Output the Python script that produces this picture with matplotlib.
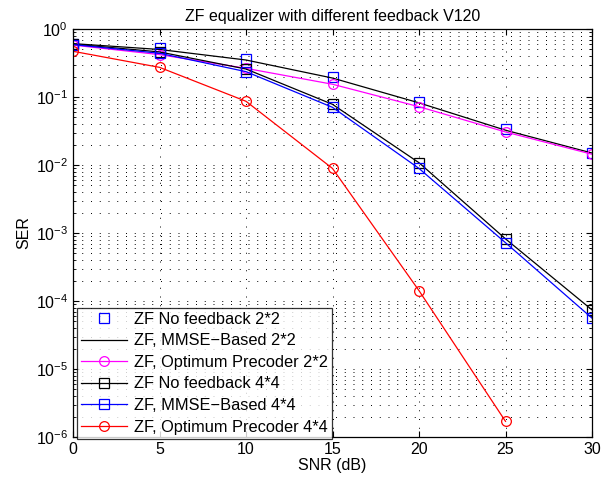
import matplotlib
matplotlib.use("Agg")
import matplotlib.pyplot as plt
from matplotlib.ticker import LogLocator, NullFormatter, FixedLocator

plt.rcParams['font.family'] = ['Liberation Sans', 'DejaVu Sans']
plt.rcParams['mathtext.fontset'] = 'custom'
plt.rcParams['mathtext.rm'] = 'Liberation Sans'

snr = [0, 5, 10, 15, 20, 25, 30]
ser_nofb_2 = [0.60, 0.52, 0.36, 0.20, 0.084, 0.0335, 0.0152]
ser_mmse_2 = [0.61, 0.50, 0.35, 0.19, 0.082, 0.0325, 0.0150]
ser_opt_2 = [0.58, 0.42, 0.264, 0.154, 0.072, 0.0306, 0.0144]
ser_nofb_4 = [0.60, 0.46, 0.258, 0.078, 0.0108, 8.2e-4, 7.4e-5]
ser_mmse_4 = [0.59, 0.44, 0.236, 0.0705, 0.0089, 7.2e-4, 5.6e-5]
snr_opt_4 = [0, 5, 10, 15, 20, 25]
ser_opt_4 = [0.47, 0.273, 0.0865, 0.0089, 1.42e-4, 1.7e-6]

labels = ["ZF No feedback 2*2", "ZF, MMSE\u2212Based 2*2", "ZF, Optimum Precoder 2*2",
          "ZF No feedback 4*4", "ZF, MMSE\u2212Based 4*4", "ZF, Optimum Precoder 4*4"]

fig = plt.figure(figsize=(6.16, 4.86), dpi=100)
ax = fig.add_axes([73/616, 1-437/486, (592-73)/616, (437-29)/486])

ms = 6.5
lw = 0.9
ax.semilogy(snr, ser_nofb_2, linestyle='none', marker='s', mfc='none', mec='blue', ms=ms, mew=0.9, label=labels[0])
ax.semilogy(snr, ser_mmse_2, color='black', lw=lw, label=labels[1])
ax.semilogy(snr, ser_opt_2, color='magenta', lw=lw, marker='o', mfc='none', ms=ms+0.5, mew=0.9, label=labels[2])
ax.semilogy(snr, ser_nofb_4, color='black', lw=lw, marker='s', mfc='none', ms=ms, mew=0.9, label=labels[3])
ax.semilogy(snr, ser_mmse_4, color='blue', lw=lw, marker='s', mfc='none', ms=ms, mew=0.9, label=labels[4])
ax.semilogy(snr_opt_4, ser_opt_4, color='red', lw=lw, marker='o', mfc='none', ms=ms+0.5, mew=0.9, label=labels[5])

ax.set_xlim(0, 30)
ax.set_ylim(1e-6, 1e0)
ax.xaxis.set_major_locator(FixedLocator(snr))
ax.yaxis.set_major_locator(LogLocator(base=10, numticks=10))
ax.yaxis.set_minor_locator(LogLocator(base=10, subs=range(2, 10), numticks=20))
ax.yaxis.set_minor_formatter(NullFormatter())

gls = (0, (1, 8))
ax.grid(True, which='major', axis='both', linestyle=gls, color='black', lw=0.7)
ax.grid(True, which='minor', axis='y', linestyle=gls, color='black', lw=0.7)
ax.tick_params(which='both', direction='in', top=True, right=True, labelsize=11.5)
ax.tick_params(which='major', length=4)
ax.tick_params(which='minor', length=2)
for s in ax.spines.values():
    s.set_linewidth(0.9)

ax.set_xlabel("SNR (dB)", fontsize=11.5, labelpad=1)
ax.set_ylabel("SER", fontsize=11.5, labelpad=3)
ax.set_title("ZF equalizer with different feedback V120", fontsize=11.5, pad=6)

leg = ax.legend(loc='lower left', bbox_to_anchor=(4/519, -0.004), fontsize=11.8,
                frameon=True, fancybox=False, edgecolor='black', borderpad=0.25,
                labelspacing=0.4, handlelength=2.8, handletextpad=0.4, borderaxespad=0)
leg.get_frame().set_linewidth(0.9)

fig.savefig("out.png", dpi=100)
